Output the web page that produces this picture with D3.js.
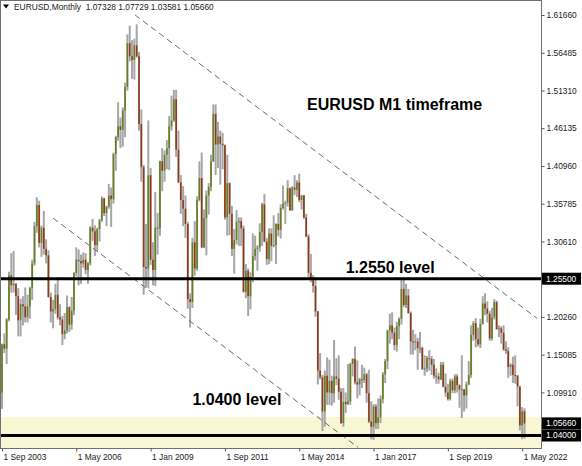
<!DOCTYPE html>
<html>
<head>
<meta charset="utf-8">
<script src="https://cdn.jsdelivr.net/npm/d3@7/dist/d3.min.js"></script>
<style>
  body { margin: 0; background: #fff; }
  text { font-family: "Liberation Sans", Arial, sans-serif; }
</style>
</head>
<body>
<script>
// EURUSD monthly candles, 1 Sep 2003 .. 1 Jun 2022 (one row per year)
var opens = [
  1.0990,1.1650,1.1590,1.1990,
  1.2595,1.2460,1.2480,1.2310,1.1980,1.2200,1.2170,1.2020,1.2170,1.2420,1.2760,1.3270,
  1.3560,1.3040,1.3250,1.2960,1.2870,1.2300,1.2100,1.2130,1.2330,1.2020,1.1990,1.1790,
  1.1840,1.2160,1.1920,1.2110,1.2630,1.2810,1.2790,1.2760,1.2810,1.2670,1.2760,1.3250,
  1.3200,1.3010,1.3230,1.3350,1.3650,1.3450,1.3540,1.3690,1.3640,1.4260,1.4490,1.4640,
  1.4590,1.4860,1.5180,1.5780,1.5600,1.5550,1.5750,1.5600,1.4670,1.4080,1.2710,1.2690,
  1.3970,1.2810,1.2670,1.3250,1.3240,1.4160,1.4030,1.4250,1.4340,1.4640,1.4720,1.5010,
  1.4320,1.3870,1.3630,1.3510,1.3300,1.2270,1.2230,1.3050,1.2690,1.3630,1.3930,1.2980,
  1.3380,1.3690,1.3810,1.4160,1.4810,1.4390,1.4500,1.4400,1.4380,1.3390,1.3860,1.3440,
  1.2960,1.3080,1.3330,1.3340,1.3240,1.2370,1.2660,1.2310,1.2580,1.2860,1.2960,1.2980,
  1.3190,1.3570,1.3060,1.2820,1.3170,1.3000,1.3010,1.3300,1.3220,1.3520,1.3580,1.3590,
  1.3790,1.3490,1.3800,1.3770,1.3870,1.3630,1.3690,1.3390,1.3130,1.2630,1.2530,1.2450,
  1.2100,1.1290,1.1200,1.0730,1.1220,1.0990,1.1150,1.0980,1.1210,1.1180,1.1000,1.0570,
  1.0860,1.0830,1.0870,1.1380,1.1450,1.1130,1.1100,1.1170,1.1160,1.1240,1.0980,1.0590,
  1.0520,1.0800,1.0570,1.0650,1.0900,1.1240,1.1420,1.1840,1.1910,1.1810,1.1640,1.1900,
  1.2000,1.2410,1.2190,1.2320,1.2080,1.1690,1.1680,1.1690,1.1600,1.1600,1.1310,1.1320,
  1.1460,1.1450,1.1370,1.1220,1.1210,1.1170,1.1370,1.1070,1.0990,1.0900,1.1150,1.1020,
  1.1210,1.1090,1.1030,1.1030,1.0950,1.1100,1.1230,1.1780,1.1940,1.1720,1.1650,1.1930,
  1.2210,1.2140,1.2070,1.1730,1.2020,1.2230,1.1860,1.1870,1.1810,1.1580,1.1560,1.1340,
  1.1370,1.1230,1.1220,1.1070,1.0540,1.07328
];
var highs = [
  1.1660,1.1800,1.2010,1.2645,
  1.2900,1.2930,1.2490,1.2420,1.2275,1.2310,1.2430,1.2330,1.2440,1.2810,1.3330,1.3667,
  1.3620,1.3280,1.3480,1.3090,1.2940,1.2360,1.2260,1.2480,1.2570,1.2200,1.2040,1.2080,
  1.2320,1.2170,1.2300,1.2640,1.2980,1.2950,1.2880,1.2910,1.2900,1.2780,1.3270,1.3370,
  1.3280,1.3250,1.3370,1.3680,1.3660,1.3550,1.3850,1.3800,1.4280,1.4510,1.4970,1.4760,
  1.4900,1.5240,1.5900,1.6020,1.5820,1.5840,1.6038,1.5660,1.4870,1.4110,1.3300,1.4720,
  1.4070,1.3050,1.3740,1.3450,1.4170,1.4340,1.4310,1.4450,1.4780,1.5060,1.5140,1.5140,
  1.4580,1.3970,1.3820,1.3690,1.3330,1.2350,1.3110,1.3340,1.3680,1.4160,1.4280,1.3500,
  1.3760,1.3860,1.4250,1.4940,1.4940,1.4700,1.4580,1.4550,1.4390,1.4250,1.3870,1.3550,
  1.3230,1.3490,1.3390,1.3390,1.3280,1.2750,1.2690,1.2640,1.3170,1.3140,1.3010,1.3310,
  1.3590,1.3710,1.3110,1.3240,1.3240,1.3420,1.3310,1.3450,1.3570,1.3830,1.3620,1.3900,
  1.3800,1.3820,1.3970,1.3900,1.3990,1.3700,1.3700,1.3440,1.3160,1.2890,1.2600,1.2570,
  1.2110,1.1530,1.1230,1.1290,1.1470,1.1440,1.1220,1.1710,1.1460,1.1500,1.1050,1.1050,
  1.0990,1.1380,1.1400,1.1460,1.1620,1.1430,1.1190,1.1370,1.1330,1.1260,1.1300,1.0870,
  1.0830,1.0830,1.0910,1.0950,1.1270,1.1450,1.1850,1.2070,1.2090,1.1880,1.1960,1.2020,
  1.2540,1.2555,1.2480,1.2410,1.2100,1.1850,1.1790,1.1740,1.1820,1.1620,1.1500,1.1490,
  1.1570,1.1490,1.1450,1.1320,1.1260,1.1410,1.1410,1.1250,1.1110,1.1180,1.1180,1.1240,
  1.1240,1.1100,1.1500,1.1040,1.1140,1.1420,1.1910,1.1970,1.2010,1.1880,1.2000,1.2310,
  1.2350,1.2240,1.2110,1.2150,1.2270,1.2250,1.1910,1.1900,1.1910,1.1690,1.1610,1.1390,
  1.1480,1.1500,1.1230,1.1080,1.0790,1.07729
];
var lows = [
  1.0765,1.1530,1.1380,1.1965,
  1.2360,1.2360,1.2055,1.1760,1.1760,1.1910,1.1950,1.1950,1.2000,1.2260,1.2730,1.3180,
  1.2980,1.2850,1.2880,1.2760,1.2290,1.1950,1.1870,1.2070,1.1990,1.1910,1.1640,1.1720,
  1.1800,1.1820,1.1850,1.2050,1.2580,1.2460,1.2480,1.2700,1.2610,1.2480,1.2730,1.3070,
  1.2860,1.2930,1.3060,1.3330,1.3410,1.3270,1.3510,1.3260,1.3580,1.4030,1.4440,1.4340,
  1.4360,1.4490,1.5130,1.5530,1.5290,1.5280,1.5580,1.4580,1.3880,1.2330,1.2430,1.2420,
  1.2740,1.2460,1.2450,1.2880,1.3140,1.3750,1.3880,1.4050,1.4040,1.4580,1.4700,1.4220,
  1.3860,1.3440,1.3270,1.3110,1.2140,1.1880,1.2150,1.2590,1.2660,1.3610,1.2970,1.2970,
  1.2870,1.3430,1.3750,1.4150,1.3970,1.4070,1.3840,1.4050,1.3360,1.3140,1.3150,1.2860,
  1.2620,1.3020,1.3000,1.3000,1.2360,1.2280,1.2040,1.2130,1.2500,1.2800,1.2660,1.2920,
  1.3000,1.3050,1.2740,1.2750,1.2790,1.2980,1.2750,1.3130,1.3100,1.3500,1.3300,1.3540,
  1.3480,1.3480,1.3700,1.3670,1.3600,1.3500,1.3370,1.3120,1.2570,1.2500,1.2360,1.2030,
  1.1100,1.1170,1.0460,1.0520,1.0820,1.0820,1.0810,1.0850,1.1090,1.0890,1.0560,1.0520,
  1.0710,1.0820,1.0820,1.1210,1.1100,1.0910,1.0950,1.1050,1.1120,1.0850,1.0570,1.0350,
  1.0340,1.0490,1.0490,1.0570,1.0840,1.1120,1.1310,1.1660,1.1720,1.1570,1.1550,1.1720,
  1.1920,1.2160,1.2150,1.2070,1.1510,1.1510,1.1570,1.1300,1.1530,1.1300,1.1220,1.1270,
  1.1290,1.1230,1.1180,1.1110,1.1110,1.1160,1.1060,1.0930,1.0880,1.0880,1.0980,1.0980,
  1.0990,1.0780,1.0640,1.0730,1.0770,1.1090,1.1190,1.1700,1.1610,1.1620,1.1600,1.1920,
  1.2050,1.1950,1.1700,1.1700,1.1990,1.1850,1.1750,1.1660,1.1560,1.1520,1.1190,1.1220,
  1.1120,1.1110,1.0800,1.0470,1.0350,1.03581
];
var closes = [
  1.1650,1.1590,1.1990,1.2595,
  1.2460,1.2480,1.2310,1.1980,1.2200,1.2170,1.2020,1.2170,1.2420,1.2760,1.3270,1.3560,
  1.3040,1.3250,1.2960,1.2870,1.2300,1.2100,1.2130,1.2330,1.2020,1.1990,1.1790,1.1840,
  1.2160,1.1920,1.2110,1.2630,1.2810,1.2790,1.2760,1.2810,1.2670,1.2760,1.3250,1.3200,
  1.3010,1.3230,1.3350,1.3650,1.3450,1.3540,1.3690,1.3640,1.4260,1.4490,1.4640,1.4590,
  1.4860,1.5180,1.5780,1.5600,1.5550,1.5750,1.5600,1.4670,1.4080,1.2710,1.2690,1.3970,
  1.2810,1.2670,1.3250,1.3240,1.4160,1.4030,1.4250,1.4340,1.4640,1.4720,1.5010,1.4320,
  1.3870,1.3630,1.3510,1.3300,1.2270,1.2230,1.3050,1.2690,1.3630,1.3930,1.2980,1.3380,
  1.3690,1.3810,1.4160,1.4810,1.4390,1.4500,1.4400,1.4380,1.3390,1.3860,1.3440,1.2960,
  1.3080,1.3330,1.3340,1.3240,1.2370,1.2660,1.2310,1.2580,1.2860,1.2960,1.2980,1.3190,
  1.3570,1.3060,1.2820,1.3170,1.3000,1.3010,1.3300,1.3220,1.3520,1.3580,1.3590,1.3790,
  1.3490,1.3800,1.3770,1.3870,1.3630,1.3690,1.3390,1.3130,1.2630,1.2530,1.2450,1.2100,
  1.1290,1.1200,1.0730,1.1220,1.0990,1.1150,1.0980,1.1210,1.1180,1.1000,1.0570,1.0860,
  1.0830,1.0870,1.1380,1.1450,1.1130,1.1100,1.1170,1.1160,1.1240,1.0980,1.0590,1.0520,
  1.0800,1.0570,1.0650,1.0900,1.1240,1.1420,1.1840,1.1910,1.1810,1.1640,1.1900,1.2000,
  1.2410,1.2190,1.2320,1.2080,1.1690,1.1680,1.1690,1.1600,1.1600,1.1310,1.1320,1.1460,
  1.1450,1.1370,1.1220,1.1210,1.1170,1.1370,1.1070,1.0990,1.0900,1.1150,1.1020,1.1210,
  1.1090,1.1030,1.1030,1.0950,1.1100,1.1230,1.1780,1.1940,1.1720,1.1650,1.1930,1.2210,
  1.2140,1.2070,1.1730,1.2020,1.2230,1.1860,1.1870,1.1810,1.1580,1.1560,1.1340,1.1370,
  1.1230,1.1220,1.1070,1.0540,1.0730,1.05660
];

// Axis labels (1.25435 and 1.04735 sit under the price boxes, only their ticks show)
var xLabels = ["1 Sep 2003", "1 May 2006", "1 Jan 2009", "1 Sep 2011", "1 May 2014", "1 Jan 2017", "1 Sep 2019", "1 May 2022"];
var yLabels = ["1.61660", "1.56485", "1.51310", "1.46135", "1.40960", "1.35785", "1.30610",
               "1.20260", "1.15085", "1.09910"];

// Drawn objects: levels, zone, trend channel ([bar index, price] end points)
var levels = [1.2550, 1.0400];
var levelNotes = ["1.2550 level", "1.0400 level"];
var zone = [1.0655, 1.0150];
var upperTrend = [[57.3, 1.6166], [230.4, 1.2007]];
var lowerTrend = [[22, 1.3380], [153.3, 1.0237]];
var header = "EURUSD,Monthly  1.07328 1.07729 1.03581 1.05660";

var W = 582, H = 466;
var right = 541, bottom = 448;

var svg = d3.select("body").append("svg").attr("width", W).attr("height", H);

// Scales: one bar per month, price on the right
var firstMonth = new Date(2003, 8, 1);
var x = d3.scaleLinear().domain([0, closes.length - 1]).range([2, 524.5]);
var y = d3.scaleLinear().domain([1.04, 1.6166]).range([435.5, 15]);
var parseLabel = d3.timeParse("%d %b %Y");
var labelIdx = xLabels.map(function(s) { return d3.timeMonth.count(firstMonth, parseLabel(s)); });

var plot = svg.append("g");
plot.append("clipPath").attr("id", "clip").append("rect")
    .attr("x", 0).attr("y", 0).attr("width", right).attr("height", bottom);

// Yellow zone (background)
plot.append("rect")
    .attr("x", 0).attr("width", right)
    .attr("y", y(zone[0])).attr("height", Math.min(bottom, y(zone[1])) - y(zone[0]))
    .attr("fill", "#f9f7d3");

// Candles
var candles = plot.append("g").selectAll("g").data(closes).enter().append("g");
candles.append("rect")
    .attr("x", function(d, i) { return x(i) - 1; })
    .attr("width", 2)
    .attr("y", function(d, i) { return y(highs[i]); })
    .attr("height", function(d, i) { return y(lows[i]) - y(highs[i]); })
    .attr("fill", "#a6a6a6");
candles.append("rect")
    .attr("x", function(d, i) { return x(i) - 0.8; })
    .attr("width", 1.6)
    .attr("y", function(d, i) { return y(Math.max(opens[i], d)); })
    .attr("height", function(d, i) { return Math.max(1, Math.abs(y(opens[i]) - y(d))); })
    .attr("fill", function(d, i) { return d >= opens[i] ? "#64801c" : "#923818"; });

// Trend channel
var line = d3.line().x(function(d) { return x(d[0]); }).y(function(d) { return y(d[1]); });
plot.append("g").attr("clip-path", "url(#clip)").selectAll("path").data([upperTrend, lowerTrend]).enter()
    .append("path")
    .attr("d", line)
    .attr("fill", "none")
    .attr("stroke", "#6a6a6a")
    .attr("stroke-width", 1)
    .attr("stroke-dasharray", "6,4");

// Horizontal levels
plot.selectAll("line.level").data(levels).enter().append("line")
    .attr("class", "level")
    .attr("x1", 0).attr("x2", right)
    .attr("y1", function(d) { return y(d); }).attr("y2", function(d) { return y(d); })
    .attr("stroke", "#000").attr("stroke-width", 3);

// Frame
svg.append("rect").attr("x", 0.5).attr("y", 0.5).attr("width", right).attr("height", bottom)
    .attr("fill", "none").attr("stroke", "#707070");

// X axis
var xAxis = svg.append("g").attr("transform", "translate(0," + (bottom + 0.5) + ")")
    .call(d3.axisBottom(x).tickValues(labelIdx).tickSize(3)
        .tickFormat(function(d, i) { return xLabels[i]; }));
xAxis.select(".domain").remove();
xAxis.selectAll("line").attr("stroke", "#555");
xAxis.selectAll("text").attr("text-anchor", "start").attr("dx", 1)
    .attr("font-size", 8.4).attr("font-family", "Liberation Sans, Arial, sans-serif").attr("fill", "#222");

// Y axis
var yAxis = svg.append("g").attr("transform", "translate(" + (right + 0.5) + ",0)")
    .call(d3.axisRight(y).tickValues(yLabels.map(Number)).tickSize(3)
        .tickFormat(d3.format(".5f")));
yAxis.select(".domain").remove();
yAxis.selectAll("line").attr("stroke", "#555");
yAxis.selectAll("text").attr("x", 5)
    .attr("font-size", 8.4).attr("font-family", "Liberation Sans, Arial, sans-serif").attr("fill", "#222");

// Price boxes on the axis
var boxes = levels.concat([closes[closes.length - 1]]);
var box = svg.append("g").selectAll("g").data(boxes).enter().append("g")
    .attr("transform", function(d) { return "translate(" + (right + 1) + "," + y(d) + ")"; });
box.append("rect").attr("x", 0).attr("y", -6).attr("width", 39).attr("height", 12).attr("fill", "#000");
box.append("text").attr("x", 4).attr("dy", "0.34em").attr("font-size", 8.4)
    .attr("fill", "#fff").text(function(d) { return d3.format(".5f")(d); });

// Header
svg.append("path").attr("d", "M3,4.5L9,4.5L6,8.5Z").attr("fill", "#000");
svg.append("text").attr("x", 14).attr("y", 10).attr("font-size", 8.4).attr("fill", "#222")
    .style("white-space", "pre").text(header);

// Notes
svg.append("text").attr("x", 307).attr("y", 110).attr("font-size", 16).attr("font-weight", "bold")
    .text("EURUSD M1 timeframe");
svg.append("text").attr("x", x(148)).attr("y", y(levels[0]) - 6).attr("font-size", 16).attr("font-weight", "bold")
    .text(levelNotes[0]);
svg.append("text").attr("x", x(82)).attr("y", y(levels[1]) - 31).attr("font-size", 16).attr("font-weight", "bold")
    .text(levelNotes[1]);
</script>
</body>
</html>
